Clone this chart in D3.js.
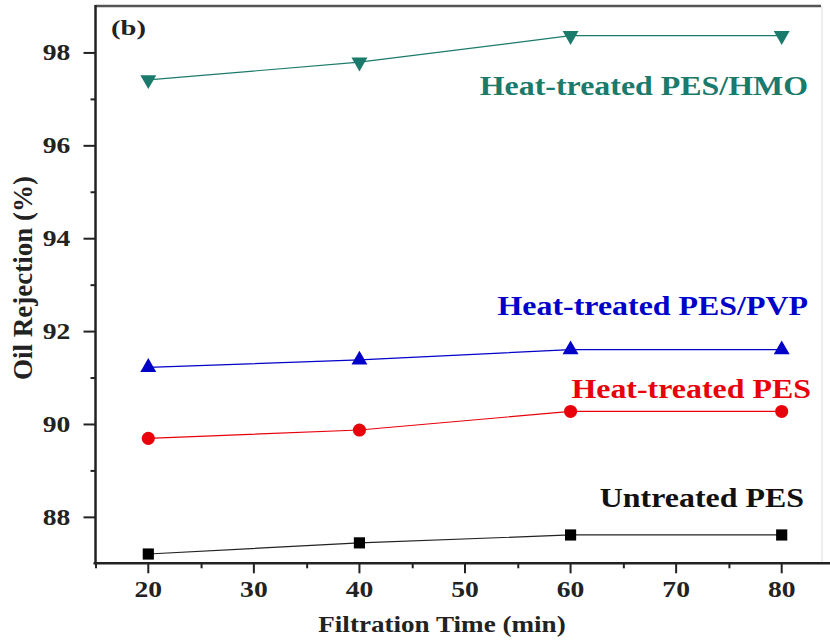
<!DOCTYPE html>
<html><head><meta charset="utf-8">
<script src="https://cdn.jsdelivr.net/npm/d3@7"></script>
<style>body{margin:0;background:#fff}svg{display:block}
svg text{font-family:"Liberation Serif","Times New Roman",Times,"DejaVu Serif",serif;font-weight:bold}</style>
</head><body>
<svg id="chart" width="830" height="642"></svg>
<script>
const times = [20, 40, 60, 80];
const untreated = [87.20, 87.44, 87.61, 87.61];
const heatPES = [89.69, 89.87, 90.27, 90.27];
const heatPVP = [91.22, 91.38, 91.60, 91.60];
const heatHMO = [97.41, 97.79, 98.36, 98.36];
const seriesNames = ["Untreated PES", "Heat-treated PES", "Heat-treated PES/PVP", "Heat-treated PES/HMO"];
const seriesColors = ["#000000", "#e8000b", "#0000c8", "#1a7a6b"];
const xTicks = [20, 30, 40, 50, 60, 70, 80];
const yTicks = [88, 90, 92, 94, 96, 98];

const series = [
  {name: seriesNames[0], values: untreated, color: seriesColors[0], shape: "square", lx: 804, ly: 507},
  {name: seriesNames[1], values: heatPES, color: seriesColors[1], shape: "circle", lx: 811, ly: 398},
  {name: seriesNames[2], values: heatPVP, color: seriesColors[2], shape: "up", lx: 808, ly: 315},
  {name: seriesNames[3], values: heatHMO, color: seriesColors[3], shape: "down", lx: 808, ly: 95}
];

const svg = d3.select("#chart");
const x = d3.scaleLinear().domain([20, 80]).range([148.3, 781.7]);
const y = d3.scaleLinear().domain([87, 99]).range([563.3, 6]);
const leftX = x(15), bottomY = y(87), topY = y(99);
const SX = 1.14;

// frame
svg.append("line").attr("x1", leftX).attr("x2", 821).attr("y1", topY).attr("y2", topY)
  .attr("stroke", "#555").attr("stroke-width", 2.5);
svg.append("line").attr("x1", 822).attr("x2", 822).attr("y1", topY).attr("y2", bottomY)
  .attr("stroke", "#ddd").attr("stroke-width", 1);

// x axis
const xAxis = d3.axisBottom(x).tickValues(xTicks).tickSize(10).tickPadding(7).tickFormat(d3.format("d"));
const gx = svg.append("g").attr("transform", `translate(0,${bottomY})`).call(xAxis);
gx.select(".domain").remove();
gx.append("line").attr("x1", leftX - 2).attr("x2", 830).attr("y1", 0).attr("y2", 0).attr("stroke", "#222").attr("stroke-width", 2.5);
gx.selectAll(".tick line").attr("stroke", "#222").attr("stroke-width", 2);
gx.selectAll(".tick text").attr("font-size", 23).attr("fill", "#222");
const xMinor = d3.axisBottom(x).tickValues([15, 25, 35, 45, 55, 65, 75, 85]).tickSize(5).tickFormat("");
const gxm = svg.append("g").attr("transform", `translate(0,${bottomY})`).call(xMinor);
gxm.select(".domain").remove();
gxm.selectAll(".tick line").attr("stroke", "#222").attr("stroke-width", 2);
// keep x tick labels centred on their ticks after horizontal scaling
gx.selectAll(".tick").each(function(d) {
  d3.select(this).attr("transform", null);
  d3.select(this).select("line").attr("transform", `translate(${x(d)},0)`);
  d3.select(this).select("text").attr("transform", `translate(${x(d)},0) scale(1.2,1)`);
});

// y axis
const yAxis = d3.axisLeft(y).tickValues(yTicks).tickSize(12).tickPadding(9).tickFormat(d3.format("d"));
const gy = svg.append("g").attr("transform", `translate(${leftX},0)`).call(yAxis);
gy.select(".domain").remove();
gy.append("line").attr("x1", 0).attr("x2", 0).attr("y1", topY - 1).attr("y2", bottomY + 1).attr("stroke", "#222").attr("stroke-width", 2.5);
gy.selectAll(".tick line").attr("stroke", "#222").attr("stroke-width", 2);
gy.selectAll(".tick text").attr("font-size", 23).attr("fill", "#222").attr("transform", "scale(1.2,1)");
const yMinor = d3.axisLeft(y).tickValues([89, 91, 93, 95, 97]).tickSize(5).tickFormat("");
const gym = svg.append("g").attr("transform", `translate(${leftX},0)`).call(yMinor);
gym.select(".domain").remove();
gym.selectAll(".tick line").attr("stroke", "#222").attr("stroke-width", 2);

// axis titles
svg.append("text").attr("transform", `translate(442,632) scale(1.13,1)`).attr("text-anchor", "middle")
  .attr("font-size", 24).attr("fill", "#222")
  .text("Filtration Time (min)");
svg.append("text").attr("transform", "translate(32,278) rotate(-90) scale(1.08,1.1)").attr("text-anchor", "middle")
  .attr("font-size", 25).attr("fill", "#222")
  .text("Oil Rejection (%)");

// panel label
svg.append("text").attr("transform", "translate(111,35) scale(1.3,1)")
  .attr("font-size", 22).attr("fill", "#222").text("(b)");

// series
const line = d3.line().x((d, i) => x(times[i])).y(d => y(d));
const sym = {
  square: d3.symbol().type(d3.symbolSquare).size(125),
  circle: d3.symbol().type(d3.symbolCircle).size(135),
  up: d3.symbol().type(d3.symbolTriangle).size(110),
  down: d3.symbol().type(d3.symbolTriangle).size(110)
};
series.forEach(s => {
  svg.append("path").datum(s.values).attr("d", line).attr("fill", "none")
    .attr("stroke", s.color === "#000000" ? "#222" : s.color).attr("stroke-width", 1.2);
  svg.selectAll(null).data(s.values).enter().append("path")
    .attr("d", sym[s.shape])
    .attr("transform", (d, i) => `translate(${x(times[i])},${y(d)})` + (s.shape === "down" ? " rotate(180)" : ""))
    .attr("fill", s.color);
  svg.append("text").attr("transform", `translate(${s.lx},${s.ly}) scale(${SX},1)`).attr("text-anchor", "end")
    .attr("font-size", 28).attr("fill", s.color === "#000000" ? "#111" : s.color)
    .text(s.name);
});
</script>
</body></html>
